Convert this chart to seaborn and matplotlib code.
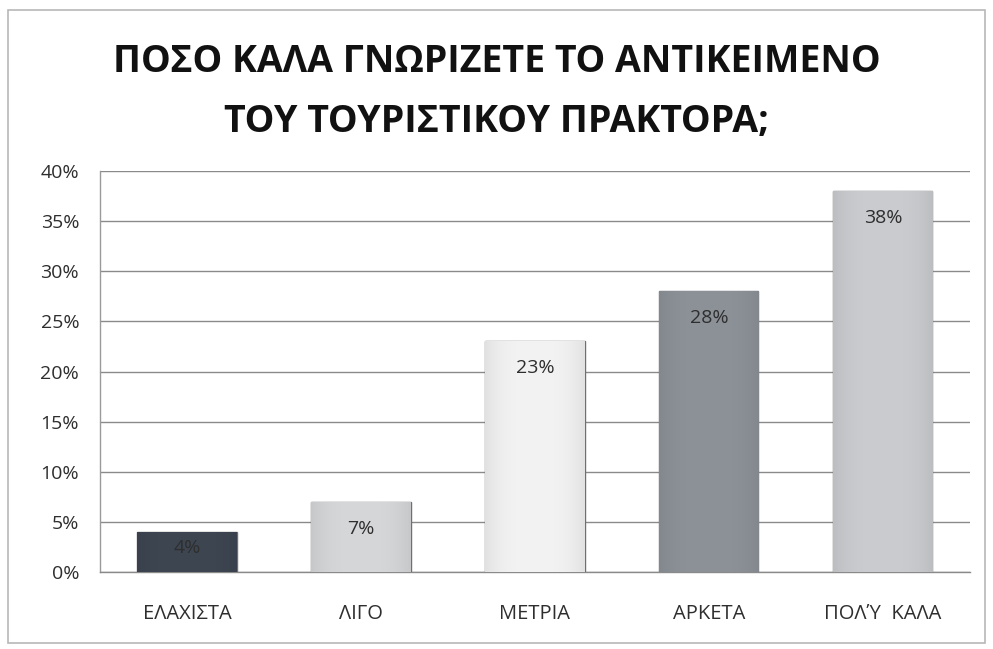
import matplotlib
matplotlib.use("Agg")
import matplotlib.pyplot as plt
import numpy as np
import pandas as pd
import seaborn as sns
from matplotlib.patches import Rectangle
from matplotlib.ticker import FuncFormatter, MultipleLocator

categories = ["ΕΛΑΧΙΣΤΑ", "ΛΙΓΟ", "ΜΕΤΡΙΑ", "ΑΡΚΕΤΑ", "ΠΟΛΎ  ΚΑΛΑ"]
values = [4, 7, 23, 28, 38]
bar_colors = ["#3e4652", "#d6d7d9", "#f3f3f3", "#8d9299", "#cacccf"]
title_lines = ["ΠΟΣΟ ΚΑΛΑ ΓΝΩΡΙΖΕΤΕ ΤΟ ΑΝΤΙΚΕΙΜΕΝΟ", "ΤΟΥ ΤΟΥΡΙΣΤΙΚΟΥ ΠΡΑΚΤΟΡΑ;"]

sns.set_theme(style="white")
plt.rcParams["font.family"] = ["Open Sans", "DejaVu Sans"]

df = pd.DataFrame({"cat": categories, "val": values})

fig = plt.figure(figsize=(9.93, 6.49), dpi=100)
fig.patch.set_facecolor("white")

# outer chart frame
fig.add_artist(Rectangle((0.008, 0.01), 0.984, 0.975, transform=fig.transFigure,
                         fill=False, edgecolor="#b8b8b8", linewidth=1.2))

ax = fig.add_axes([0.1007, 0.1186, 0.876, 0.6179])
sns.barplot(data=df, x="cat", y="val", hue="cat", palette=bar_colors,
            legend=False, width=0.57, ax=ax, edgecolor="#6f6f6f", linewidth=1.0,
            zorder=3)

# soft horizontal shading across each bar
for patch, col in zip(ax.patches, bar_colors):
    x0, y0 = patch.get_x(), patch.get_y()
    w, h = patch.get_width(), patch.get_height()
    base = np.array(matplotlib.colors.to_rgb(col))
    xs = np.linspace(0, 1, 64)
    edge = (np.abs(xs - 0.5) * 2) ** 3
    shade = 1.0 - 0.07 * edge
    img = np.clip(base[None, None, :] * shade[None, :, None], 0, 1)
    im = ax.imshow(img, extent=(x0, x0 + w, y0, y0 + h), aspect="auto",
                   zorder=3.5, interpolation="bilinear")
    im.set_clip_path(patch)

ax.set_xlim(-0.5, len(categories) - 0.5)
ax.set_ylim(0, 40)
ax.yaxis.set_major_locator(MultipleLocator(5))
ax.yaxis.set_major_formatter(FuncFormatter(lambda v, _: f"{v:.0f}%"))
ax.grid(axis="y", color="#8a8a8a", linewidth=1.0, zorder=0)
ax.set_axisbelow(True)
ax.set_xlabel("")
ax.set_ylabel("")

for side in ["top", "right"]:
    ax.spines[side].set_visible(False)
ax.spines["left"].set_color("#9a9a9a")
ax.spines["bottom"].set_color("#8a8a8a")
ax.spines["left"].set_linewidth(1.0)
ax.spines["bottom"].set_linewidth(1.0)

ax.tick_params(axis="y", labelsize=14, colors="#2e2e2e", length=0, pad=15)
ax.tick_params(axis="x", labelsize=14.5, colors="#2e2e2e", length=0, pad=23)

# value labels just inside the top of each bar
for i, v in enumerate(values):
    off = min(27, v * 4.0)
    ax.annotate(f"{v}%", xy=(i, v), xytext=(0, -off), textcoords="offset pixels",
                ha="center", va="center", fontsize=14, color="#2e2e2e", zorder=5)

fig.text(0.5, 0.905, title_lines[0], ha="center", va="center",
         fontsize=27, fontweight="bold", color="#111111")
fig.text(0.5, 0.812, title_lines[1], ha="center", va="center",
         fontsize=27, fontweight="bold", color="#111111")

fig.savefig("out.png", dpi=100)
